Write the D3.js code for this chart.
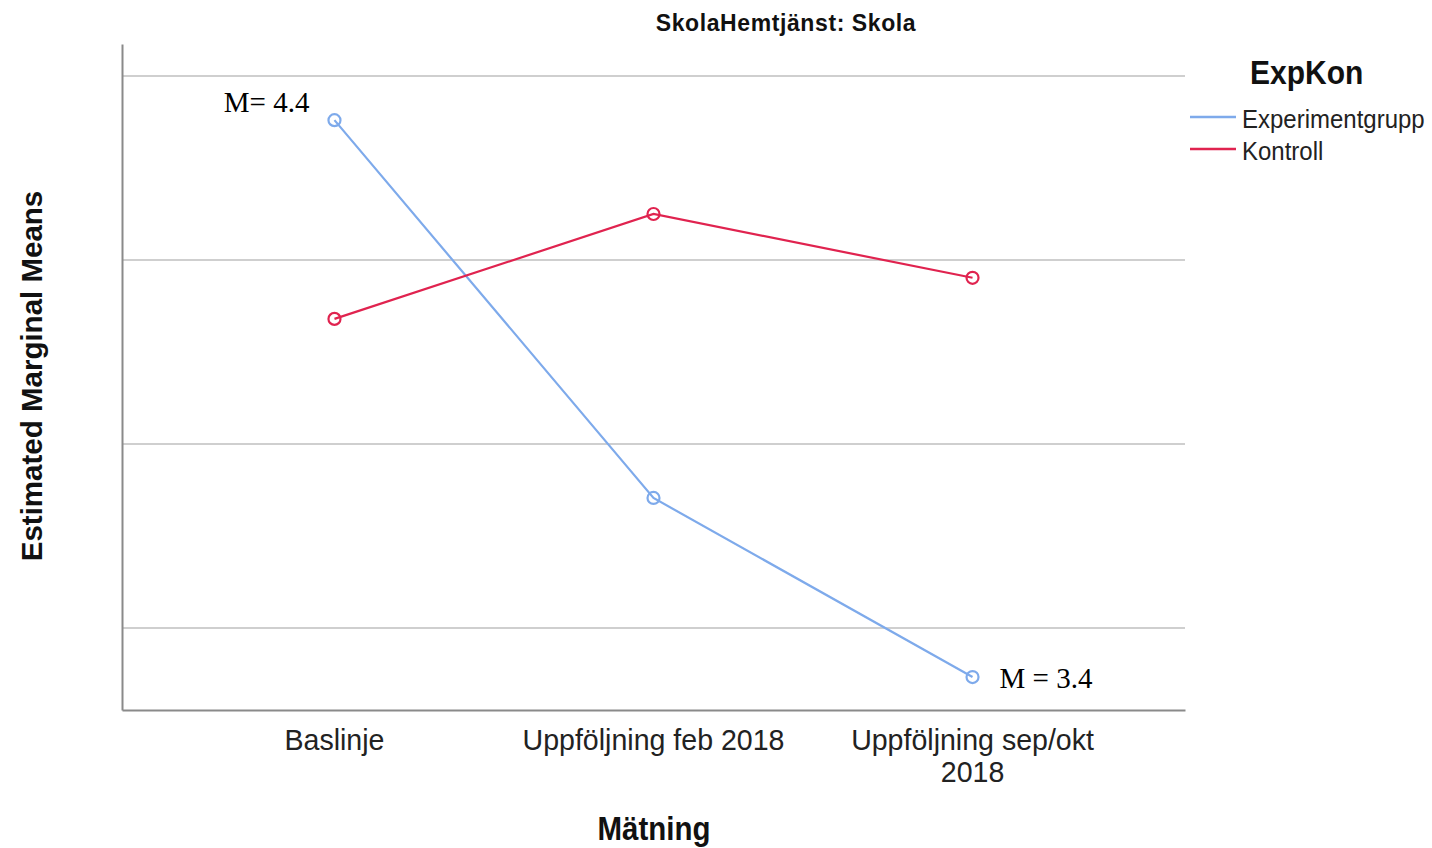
<!DOCTYPE html>
<html><head><meta charset="utf-8">
<script src="https://cdn.jsdelivr.net/npm/d3@7"></script>
<style>body{margin:0;background:#fff}svg{display:block}</style>
</head><body><svg id="c" width="1432" height="848"></svg>
<script>
const categories = ["Baslinje", "Uppföljning feb 2018", "Uppföljning sep/okt 2018"];
const tickLines = [["Baslinje"], ["Uppföljning feb 2018"], ["Uppföljning sep/okt", "2018"]];
const seriesNames = ["Experimentgrupp", "Kontroll"];
const experimentgrupp = [4.328, 3.712, 3.420];
const kontroll = [4.004, 4.175, 4.071];
const gridValues = [3.5, 3.8, 4.1, 4.4];
const annotations = [{text: "M= 4.4", cat: 0, val: 4.328}, {text: "M = 3.4", cat: 2, val: 3.420}];
const colors = ["#7eaaeb", "#e0234f"];

const svg = d3.select("#c");
const pLeft = 122, pRight = 1185, pTop = 44, pBottom = 710;
const ppu = 184 / 0.3;
const y = d3.scaleLinear().domain([4.4 - (pBottom - 76) / ppu, 4.4 + (76 - pTop) / ppu]).range([pBottom, pTop]);
const x = d3.scalePoint().domain(categories).range([pLeft, pRight]).padding(0.666);

const sans = "'Liberation Sans', Arial, sans-serif";
const serif = "'Liberation Serif', 'Times New Roman', serif";

// grid
svg.append("g").selectAll("line").data(gridValues).join("line")
  .attr("x1", pLeft).attr("x2", pRight).attr("y1", d => y(d)).attr("y2", d => y(d))
  .attr("stroke", "#cfcfcf").attr("stroke-width", 2);

// axes
const yAxis = d3.axisLeft(y).tickValues([]).tickSize(0);
svg.append("g").attr("transform", `translate(${pLeft},0)`).call(yAxis)
  .select(".domain").attr("stroke", "#8a8a8a").attr("stroke-width", 2);
const xAxis = d3.axisBottom(x).tickSize(0).tickFormat("");
const xg = svg.append("g").attr("transform", `translate(0,${pBottom})`).call(xAxis);
xg.select(".domain").attr("stroke", "#8a8a8a").attr("stroke-width", 2);

// tick labels (multi-line via tspans)
categories.forEach((c, i) => {
  const t = svg.append("text").attr("transform", `translate(${x(c)},750) scale(1.02,1.06)`)
    .attr("text-anchor", "middle").attr("font-family", sans).attr("font-size", 28).attr("fill", "#222");
  tickLines[i].forEach((s, j) => {
    t.append("tspan").attr("x", 0).attr("y", j * 30).text(s);
  });
});

// lines
const line = d3.line().x((d, i) => x(categories[i])).y(d => y(d));
[experimentgrupp, kontroll].forEach((s, k) => {
  svg.append("path").datum(s).attr("d", line).attr("fill", "none")
    .attr("stroke", colors[k]).attr("stroke-width", 2.2);
  svg.append("g").selectAll("circle").data(s).join("circle")
    .attr("cx", (d, i) => x(categories[i])).attr("cy", d => y(d)).attr("r", 6)
    .attr("fill", "none").attr("stroke", colors[k]).attr("stroke-width", 2.2);
});

// annotations
svg.append("text").attr("x", x(categories[annotations[0].cat]) - 25).attr("y", y(annotations[0].val) - 8)
  .attr("text-anchor", "end").attr("font-family", serif).attr("font-size", 29).attr("fill", "#000").text(annotations[0].text);
svg.append("text").attr("x", x(categories[annotations[1].cat]) + 27).attr("y", y(annotations[1].val) + 11)
  .attr("text-anchor", "start").attr("font-family", serif).attr("font-size", 29).attr("fill", "#000").text(annotations[1].text);

// title
svg.append("text").attr("transform", "translate(786,31) scale(1,1.08)").attr("text-anchor", "middle")
  .attr("font-family", sans).attr("font-weight", "bold").attr("font-size", 23).attr("letter-spacing", 0.6)
  .attr("fill", "#111").text("SkolaHemtjänst: Skola");

// axis titles
svg.append("text").attr("transform", "translate(654,840) scale(1,1.15)").attr("text-anchor", "middle")
  .attr("font-family", sans).attr("font-weight", "bold").attr("font-size", 29.5).attr("fill", "#111").text("Mätning");
svg.append("text").attr("transform", "translate(42,376) rotate(-90)").attr("text-anchor", "middle")
  .attr("font-family", sans).attr("font-weight", "bold").attr("font-size", 29.5).attr("fill", "#111").text("Estimated Marginal Means");

// legend
svg.append("text").attr("transform", "translate(1250,84) scale(1,1.1)").attr("font-family", sans)
  .attr("font-weight", "bold").attr("font-size", 30).attr("fill", "#111").text("ExpKon");
seriesNames.forEach((n, k) => {
  const ly = 117 + k * 32;
  svg.append("line").attr("x1", 1190).attr("x2", 1236).attr("y1", ly).attr("y2", ly)
    .attr("stroke", colors[k]).attr("stroke-width", 2.5);
  svg.append("text").attr("transform", `translate(1242,${ly + 11}) scale(1,1.1)`).attr("font-family", sans)
    .attr("font-size", 24).attr("fill", "#222").text(n);
});
</script></body></html>
